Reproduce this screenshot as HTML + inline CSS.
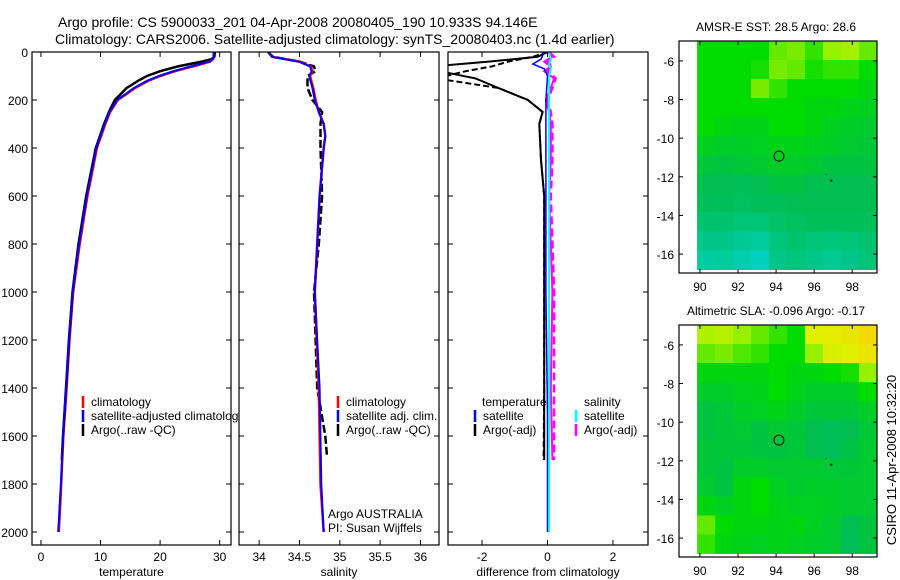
<!DOCTYPE html>
<html><head><meta charset="utf-8"><style>
body{margin:0;background:#fff;}
svg{display:block;font-family:"Liberation Sans",sans-serif;}
</style></head><body>
<svg id="fig" width="900" height="580" viewBox="0 0 900 580" xmlns="http://www.w3.org/2000/svg">
<text x="58" y="27" font-size="14">Argo profile: CS 5900033_201 04-Apr-2008 20080405_190 10.933S 94.146E</text>
<text x="55" y="44" font-size="14">Climatology: CARS2006. Satellite-adjusted climatology: synTS_20080403.nc (1.4d earlier)</text>
<g id="plots"></g>
<text transform="translate(896,460) rotate(-90)" font-size="13" text-anchor="middle">CSIRO 11-Apr-2008 10:32:20</text>
</svg>
<script>
// ---------- data ----------
const tDepth = [0,20,30,40,60,80,100,120,150,200,250,300,400,500,600,800,1000,1200,1400,1600,1800,2000];
const tClim  = [29.0,29.0,28.9,28.4,25.5,22.5,20.0,18.0,15.8,12.9,11.6,10.8,9.4,8.6,7.8,6.5,5.4,4.8,4.3,3.75,3.4,3.0];
const tSat   = [29.0,29.0,28.8,28.2,25.2,22.2,19.8,17.8,15.6,12.8,11.5,10.7,9.3,8.5,7.7,6.4,5.3,4.7,4.2,3.7,3.35,2.9];
const tArgoDepth = [0,20,30,40,60,80,100,120,150,200,250,300,400,500,600,800,1000,1200,1400,1600,1700];
const tArgo  = [29.2,29.1,28.6,27.0,23.0,20.0,17.8,16.3,14.4,12.4,11.4,10.6,9.2,8.4,7.6,6.3,5.3,4.7,4.2,3.7,3.5];
const sDepth = [0,20,40,60,80,100,150,200,250,300,350,400,600,800,1000,1400,1800,2000];
const sClim  = [34.11,34.16,34.5,34.64,34.66,34.63,34.67,34.70,34.74,34.80,34.82,34.80,34.75,34.72,34.69,34.74,34.76,34.8];
const sSat   = [34.11,34.16,34.49,34.63,34.65,34.62,34.66,34.69,34.74,34.80,34.82,34.80,34.75,34.72,34.69,34.75,34.77,34.8];
const sArgoDepth = [0,20,40,60,80,100,150,200,250,300,400,600,800,1000,1200,1400,1600,1680];
const sArgo  = [34.11,34.17,34.5,34.68,34.7,34.6,34.6,34.66,34.78,34.76,34.76,34.78,34.74,34.68,34.7,34.72,34.82,34.84];
const dDepth = [0,20,40,60,80,110,150,200,250,300,450,600,1000,1400,1700];
const dTempArgo = [0,-0.3,-1.8,-3.5,-3.3,-2.2,-1.5,-0.6,-0.15,-0.25,-0.2,-0.1,-0.1,-0.1,-0.1];
const dTempArgo2 = [0,-0.45,-1.2,-1.7,-2.5,-3.4,-1.5,-0.6,-0.15,-0.25,-0.2,-0.1,-0.1,-0.1,-0.12];
const dSatDepth = [0,30,50,70,100,200,400,1000,1500,2000];
const dTempSat = [-0.1,-0.2,-0.45,-0.1,0,-0.05,-0.05,-0.05,0,0];
const dSalSat  = [0.05,0.1,0.05,0.1,0.05,0.05,0.05,0.05,0.05,0.05];
const dSalArgo = [0,0.15,-0.1,0.1,-0.1,0.2,0.1,-0.05,0.05,0.1,0.1,0.05,0.15,0.1,0.15];
const dSalArgo2 = [0.05,0.2,0,0.15,0,0.25,0.15,0,0.1,0.15,0.15,0.1,0.2,0.2,0.2];
const depthTicks = [0,200,400,600,800,1000,1200,1400,1600,1800,2000];
const tTicks = [0,10,20,30];
const sTicks = [34,34.5,35,35.5,36];
const dTicks = [-2,0,2];
const lonTicks = [90,92,94,96,98];
const latTicks = [-6,-8,-10,-12,-14,-16];
const sstGrid = [
[0.5,0.5,0.5,0.5,0.6,0.62,0.55,0.65,0.68,0.6],
[0.5,0.5,0.5,0.52,0.62,0.6,0.52,0.55,0.55,0.5],
[0.5,0.5,0.5,0.62,0.55,0.5,0.5,0.5,0.5,0.48],
[0.5,0.5,0.5,0.5,0.5,0.5,0.48,0.48,0.47,0.46],
[0.5,0.48,0.47,0.47,0.5,0.5,0.48,0.46,0.45,0.44],
[0.46,0.45,0.45,0.46,0.47,0.47,0.46,0.45,0.44,0.43],
[0.43,0.42,0.43,0.44,0.45,0.45,0.44,0.42,0.42,0.42],
[0.4,0.4,0.38,0.4,0.42,0.42,0.4,0.4,0.4,0.4],
[0.38,0.38,0.36,0.38,0.38,0.4,0.4,0.4,0.4,0.4],
[0.32,0.32,0.3,0.3,0.34,0.36,0.38,0.38,0.38,0.38],
[0.25,0.25,0.22,0.2,0.28,0.32,0.3,0.28,0.3,0.32],
[0.18,0.2,0.15,0.1,0.25,0.28,0.25,0.22,0.25,0.3]];
const slaGrid = [
[0.7,0.72,0.65,0.6,0.55,0.5,0.8,0.82,0.85,0.9],
[0.6,0.62,0.58,0.55,0.5,0.5,0.65,0.78,0.8,0.85],
[0.48,0.48,0.48,0.48,0.5,0.48,0.48,0.5,0.52,0.65],
[0.45,0.45,0.46,0.47,0.5,0.47,0.45,0.45,0.45,0.5],
[0.42,0.43,0.45,0.46,0.47,0.45,0.43,0.43,0.43,0.45],
[0.42,0.43,0.44,0.42,0.44,0.43,0.4,0.38,0.4,0.43],
[0.43,0.43,0.43,0.42,0.42,0.43,0.4,0.38,0.41,0.44],
[0.43,0.42,0.45,0.45,0.44,0.44,0.44,0.43,0.43,0.44],
[0.44,0.42,0.48,0.5,0.46,0.44,0.45,0.45,0.44,0.44],
[0.48,0.46,0.48,0.5,0.47,0.46,0.46,0.45,0.44,0.44],
[0.6,0.5,0.48,0.48,0.47,0.48,0.46,0.44,0.4,0.42],
[0.55,0.48,0.47,0.46,0.47,0.46,0.45,0.44,0.38,0.42]];
const argoPos = [94.15,-10.93];

// ---------- helpers ----------
const NS="http://www.w3.org/2000/svg";
const root=document.getElementById('plots');
function mk(tag,attrs,parent){const e=document.createElementNS(NS,tag);for(const k in attrs)e.setAttribute(k,attrs[k]);(parent||root).appendChild(e);return e;}
function txt(x,y,s,size,anchor,parent){const e=mk('text',{x:x,y:y,'font-size':size,'text-anchor':anchor||'start'},parent);e.textContent=s;return e;}
const yD=d=>52+d*0.24;

function panel(name,x0,x1,xmin,xmax,xt,xlabel,leftLabels){
  const g=mk('g',{});
  
  
  const sx=v=>x0+(v-xmin)/(xmax-xmin)*(x1-x0);
  const cid='clip-'+name;
  const cp=mk('clipPath',{id:cid},g);mk('rect',{x:x0,y:52,width:x1-x0,height:493},cp);
  const plot=mk('g',{'clip-path':'url(#'+cid+')'},g);
  mk('rect',{x:x0,y:52,width:x1-x0,height:493,fill:'none',stroke:'#000','stroke-width':1.2},g);
  xt.forEach(v=>{const x=sx(v);mk('line',{x1:x,y1:545,x2:x,y2:540,stroke:'#000'},g);mk('line',{x1:x,y1:52,x2:x,y2:57,stroke:'#000'},g);const t=txt(x,561,String(v),12,'middle',g);});
  depthTicks.forEach(d=>{const y=yD(d);mk('line',{x1:x0,y1:y,x2:x0+5,y2:y,stroke:'#000'},g);mk('line',{x1:x1,y1:y,x2:x1-5,y2:y,stroke:'#000'},g);
    if(leftLabels){const t=txt(x0-4,y+5,String(d),12,'end',g);}});
  const t=txt((x0+x1)/2,576,xlabel,12,'middle',g);
  return {g:g,plot:plot,sx:sx};
}
function line(p,depths,vals,color,w,dash,name){
  const pts=depths.map((d,i)=>p.sx(vals[i]).toFixed(1)+','+yD(d).toFixed(1)).join(' ');
  const e=mk('polyline',{points:pts,fill:'none',stroke:color,'stroke-width':w},p.plot);
  if(dash)e.setAttribute('stroke-dasharray',dash);
  
  
}
function legend(g,x,y,color,label){
  mk('line',{x1:x,y1:y-10,x2:x,y2:y+2,stroke:color,'stroke-width':2.5},g);
  const t=txt(x+8,y,label,12,'start',g);
  
  
}

// temperature
const p1=panel('temperature',32,231,-1.5,31.9,tTicks,'temperature',true);
line(p1,tDepth,tClim,'#f00',2.5,null,'temperature-climatology-line');
line(p1,tArgoDepth,tArgo,'#000',2.5,null,'temperature-argo-line');
line(p1,tDepth,tSat,'#00f',2,null,'temperature-satellite-line');
const cpl=mk('clipPath',{id:'clip-leg1'},p1.g);mk('rect',{x:32,y:52,width:206,height:493},cpl);
const leg1=mk('g',{'clip-path':'url(#clip-leg1)'},p1.g);
legend(leg1,83,406,'#f00','climatology');
legend(leg1,83,420,'#00f','satellite-adjusted climatology');
legend(leg1,83,434,'#000','Argo(..raw -QC)');

// salinity
const p2=panel('salinity',239,439,33.75,36.23,sTicks,'salinity',false);
line(p2,sArgoDepth,sArgo,'#000',2.5,'8,3','salinity-argo-line');
line(p2,sDepth,sClim,'#f00',2.5,null,'salinity-climatology-line');
line(p2,sDepth,sSat,'#00f',2,null,'salinity-satellite-line');
legend(p2.g,338,406,'#f00','climatology');
legend(p2.g,338,420,'#00f','satellite adj. clim.');
legend(p2.g,338,434,'#000','Argo(..raw -QC)');
txt(328,518,'Argo AUSTRALIA',12,'start',p2.g);
txt(328,532,'PI: Susan Wijffels',12,'start',p2.g);

// difference
const p3=panel('difference',448,648,-3.04,3.07,dTicks,'difference from climatology',false);
line(p3,dDepth,dTempArgo2,'#000',2,'6,3','temperature-argo-diff-dashed');
line(p3,dDepth,dTempArgo,'#000',2,null,'temperature-argo-diff');
line(p3,dDepth,dSalArgo2,'#f0f',2.5,'8,4','salinity-argo-diff-dashed');
line(p3,dDepth,dSalArgo,'#f0f',2,null,'salinity-argo-diff');
line(p3,dSatDepth,dTempSat,'#00f',1.5,null,'temperature-satellite-diff');
line(p3,dSatDepth,dSalSat,'#0ff',2,null,'salinity-satellite-diff');
txt(482,406,'temperature',12,'start',p3.g);
txt(584,406,'salinity',12,'start',p3.g);
legend(p3.g,475,420,'#00f','satellite');
legend(p3.g,475,434,'#000','Argo(-adj)');
legend(p3.g,576,420,'#0ff','satellite');
legend(p3.g,576,434,'#f0f','Argo(-adj)');

// maps
function cmap(v){
  const stops=[[0,[0,215,230]],[0.4,[0,190,80]],[0.5,[0,220,0]],[0.65,[150,240,0]],[0.8,[225,240,0]],[1,[255,195,0]]];
  for(let i=1;i<stops.length;i++){if(v<=stops[i][0]){const a=stops[i-1],b=stops[i],f=(v-a[0])/(b[0]-a[0]);
    return 'rgb('+a[1].map((c,j)=>Math.round(c+(b[1][j]-c)*f)).join(',')+')';}}
  return 'rgb(255,195,0)';
}
function map(name,top,title,grid){
  const g=mk('g',{});
  
  
  const x0=679,x1=877,lon0=88.9,lon1=99.3,lat0=-4.97,lat1=-16.98;
  const sx=l=>x0+(l-lon0)/(lon1-lon0)*(x1-x0);
  const sy=l=>top+(l-lat0)/(lat1-lat0)*232;
  const nr=grid.length,nc=grid[0].length,cl0=89.85,cl1=99.3,rl0=-4.97,rl1=-16.8;
  grid.forEach((row,r)=>row.forEach((v,c)=>{
    const xa=sx(cl0+(cl1-cl0)*c/nc),xb=sx(cl0+(cl1-cl0)*(c+1)/nc);
    const ya=sy(rl0+(rl1-rl0)*r/nr),yb=sy(rl0+(rl1-rl0)*(r+1)/nr);
    const e=mk('rect',{x:xa.toFixed(1),y:ya.toFixed(1),width:(xb-xa+0.5).toFixed(1),height:(yb-ya+0.5).toFixed(1),fill:cmap(v)},g);
    
    
  }));
  mk('rect',{x:x0,y:top,width:x1-x0,height:232,fill:'none',stroke:'#000','stroke-width':1.2},g);
  lonTicks.forEach(l=>{const x=sx(l);mk('line',{x1:x,y1:top,x2:x,y2:top+4,stroke:'#000'},g);mk('line',{x1:x,y1:top+232,x2:x,y2:top+228,stroke:'#000'},g);txt(x,top+250,String(l),12,'middle',g);});
  latTicks.forEach(l=>{const y=sy(l);mk('line',{x1:x0,y1:y,x2:x0+4,y2:y,stroke:'#000'},g);mk('line',{x1:x1,y1:y,x2:x1-4,y2:y,stroke:'#000'},g);txt(x0-5,y+5,String(l),12,'end',g);});
  const c=mk('circle',{cx:sx(argoPos[0]),cy:sy(argoPos[1]),r:5,fill:'none',stroke:'#000','stroke-width':1},g);
  
  
  mk('rect',{x:sx(96.85),y:sy(-12.15),width:2,height:2,fill:'#000'},g);
  mk('rect',{x:sx(96.6),y:sy(-11.85),width:1,height:1,fill:'#000'},g);
  txt(776,top-10,title,12,'middle',g);
}
map('sst',41,'AMSR-E SST: 28.5 Argo: 28.6',sstGrid);
map('sla',325,'Altimetric SLA: -0.096 Argo: -0.17',slaGrid);
</script>
</body></html>
